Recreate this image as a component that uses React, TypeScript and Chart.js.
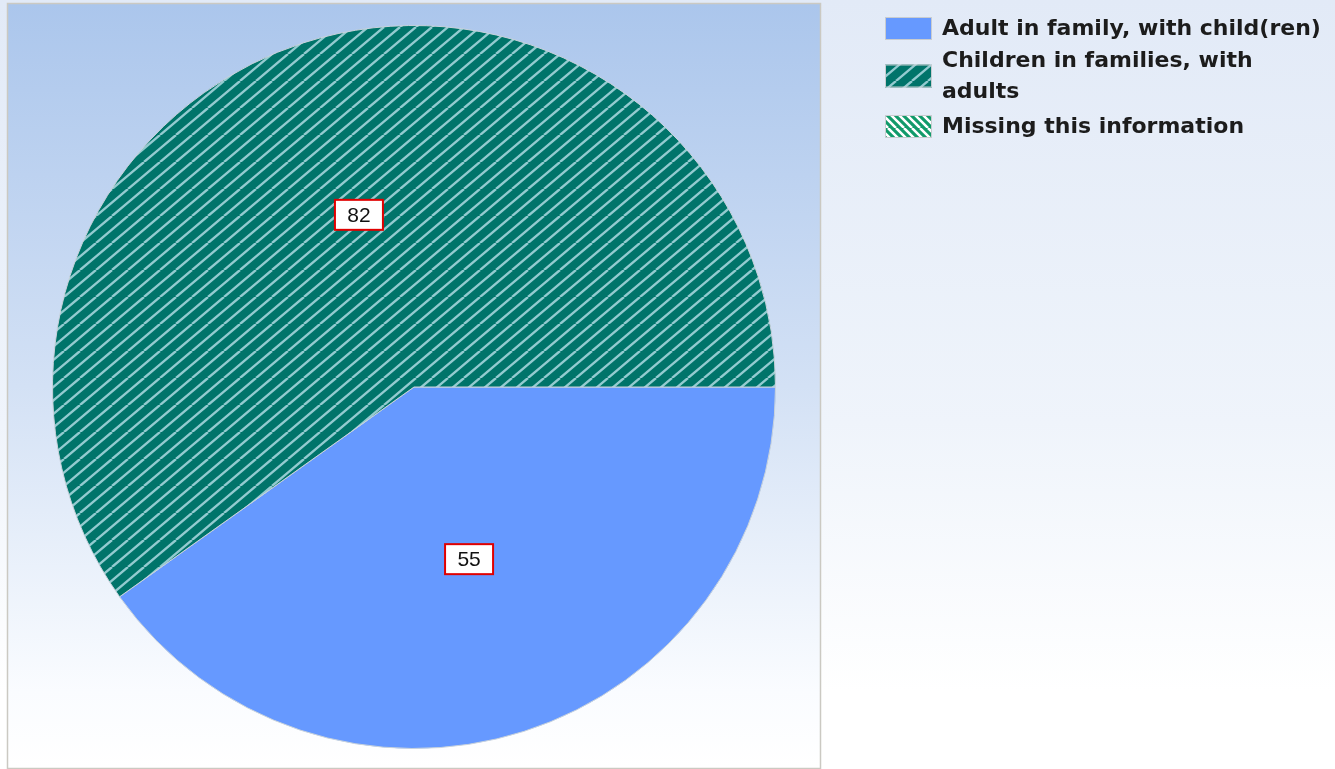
import React, { useEffect, useRef } from "react";
import { Chart, registerables } from "chart.js";

Chart.register(...registerables);

const categories = [
  "Adult in family, with child(ren)",
  "Children in families, with adults",
  "Missing this information",
];
const legendLines = [
  ["Adult in family, with child(ren)"],
  ["Children in families, with", "adults"],
  ["Missing this information"],
];
const values = [55, 82, 0];

function makeHatch(bg: string, line: string, w: number, h: number, dir: "/" | "\\", lw = 2) {
  const c = document.createElement("canvas");
  c.width = w;
  c.height = h;
  const x = c.getContext("2d")!;
  x.fillStyle = bg;
  x.fillRect(0, 0, w, h);
  x.strokeStyle = line;
  x.lineWidth = lw;
  x.beginPath();
  const step = w / 2;
  for (let k = -2 * w; k <= 2 * w; k += step) {
    if (dir === "/") {
      x.moveTo(k, h);
      x.lineTo(k + w, 0);
    } else {
      x.moveTo(k, 0);
      x.lineTo(k + w, h);
    }
  }
  x.stroke();
  return x.createPattern(c, "repeat")!;
}

export default function App() {
  const ref = useRef<HTMLCanvasElement>(null);

  useEffect(() => {
    const canvas = ref.current!;
    const fills: (string | CanvasPattern)[] = [
      "#6699ff",
      makeHatch("#00746a", "#93cbd0", 32, 27, "/", 2.4),
      makeHatch("#119a6a", "#ffffff", 16, 16, "\\", 2.5),
    ];

    const backgroundPlugin = {
      id: "bgPlugin",
      beforeDraw(chart: any) {
        const ctx = chart.ctx as CanvasRenderingContext2D;
        const W = chart.width;
        const H = chart.height;
        ctx.save();
        const g = ctx.createLinearGradient(0, 0, 0, H);
        g.addColorStop(0, "#e2eaf7");
        g.addColorStop(0.55, "#eff4fb");
        g.addColorStop(0.9, "#ffffff");
        g.addColorStop(1, "#ffffff");
        ctx.fillStyle = g;
        ctx.fillRect(0, 0, W, H);
        const g2 = ctx.createLinearGradient(0, 4, 0, 768);
        g2.addColorStop(0, "#abc6ec");
        g2.addColorStop(0.5, "#d3e1f5");
        g2.addColorStop(0.9, "#fafcff");
        g2.addColorStop(1, "#ffffff");
        ctx.fillStyle = g2;
        ctx.fillRect(8, 4, 812, 764);
        ctx.strokeStyle = "#cbc9c2";
        ctx.lineWidth = 1.5;
        ctx.strokeRect(7.5, 3.5, 813, 765);
        ctx.restore();
      },
    };

    const labelsPlugin = {
      id: "boxLabels",
      afterDatasetsDraw(chart: any) {
        const ctx = chart.ctx as CanvasRenderingContext2D;
        const meta = chart.getDatasetMeta(0);
        ctx.save();
        ctx.font = "21px 'Liberation Sans', Arial, sans-serif";
        ctx.textAlign = "center";
        ctx.textBaseline = "middle";
        meta.data.forEach((arc: any, i: number) => {
          const v = values[i];
          if (!v) return;
          const p = arc.getProps(["x", "y", "startAngle", "endAngle", "outerRadius"], true);
          const mid = (p.startAngle + p.endAngle) / 2;
          const r = p.outerRadius * 0.5;
          const cx = p.x + Math.cos(mid) * r;
          const cy = p.y + Math.sin(mid) * r;
          const bw = 48;
          const bh = 30;
          ctx.fillStyle = "#ffffff";
          ctx.fillRect(cx - bw / 2, cy - bh / 2, bw, bh);
          ctx.strokeStyle = "#e00000";
          ctx.lineWidth = 2;
          ctx.strokeRect(cx - bw / 2, cy - bh / 2, bw, bh);
          ctx.fillStyle = "#111111";
          ctx.fillText(String(v), cx, cy + 1);
        });
        ctx.restore();
      },
    };

    const legendPlugin = {
      id: "customLegend",
      afterDraw(chart: any) {
        const ctx = chart.ctx as CanvasRenderingContext2D;
        ctx.save();
        ctx.font = "bold 22px 'DejaVu Sans', Verdana, sans-serif";
        ctx.textBaseline = "middle";
        ctx.textAlign = "left";
        const lineH = 31;
        let y = 17;
        legendLines.forEach((lines, i) => {
          const blockH = lines.length * lineH;
          const sy = y + (blockH - lineH) / 2 + (lineH - 23) / 2 - 4;
          ctx.fillStyle = fills[i] as any;
          ctx.fillRect(885, sy, 47, 23);
          ctx.strokeStyle = "#c8ccd0";
          ctx.lineWidth = 1;
          ctx.strokeRect(885.5, sy + 0.5, 46, 22);
          ctx.fillStyle = "#1c1c1c";
          lines.forEach((t, j) => {
            ctx.fillText(t, 942, y + 12 + j * lineH);
          });
          y += blockH + (i === 0 ? 1 : 4);
        });
        ctx.restore();
      },
    };

    const chart = new Chart(canvas, {
      type: "pie",
      data: {
        labels: categories,
        datasets: [
          {
            data: values,
            backgroundColor: fills as any,
            borderColor: "#c9d3dc",
            borderWidth: 1,
          },
        ],
      },
      options: {
        animation: false,
        responsive: false,
        rotation: 90,
        layout: { padding: { left: 52, right: 559, top: 25, bottom: 20 } },
        plugins: {
          legend: { display: false },
          tooltip: { enabled: false },
        },
      },
      plugins: [backgroundPlugin, labelsPlugin, legendPlugin],
    });
    return () => chart.destroy();
  }, []);

  return (
    <div style={{ position: "fixed", left: 0, top: 0, width: 1335, height: 769 }}>
      <canvas ref={ref} width={1335} height={769} style={{ display: "block" }} />
    </div>
  );
}
